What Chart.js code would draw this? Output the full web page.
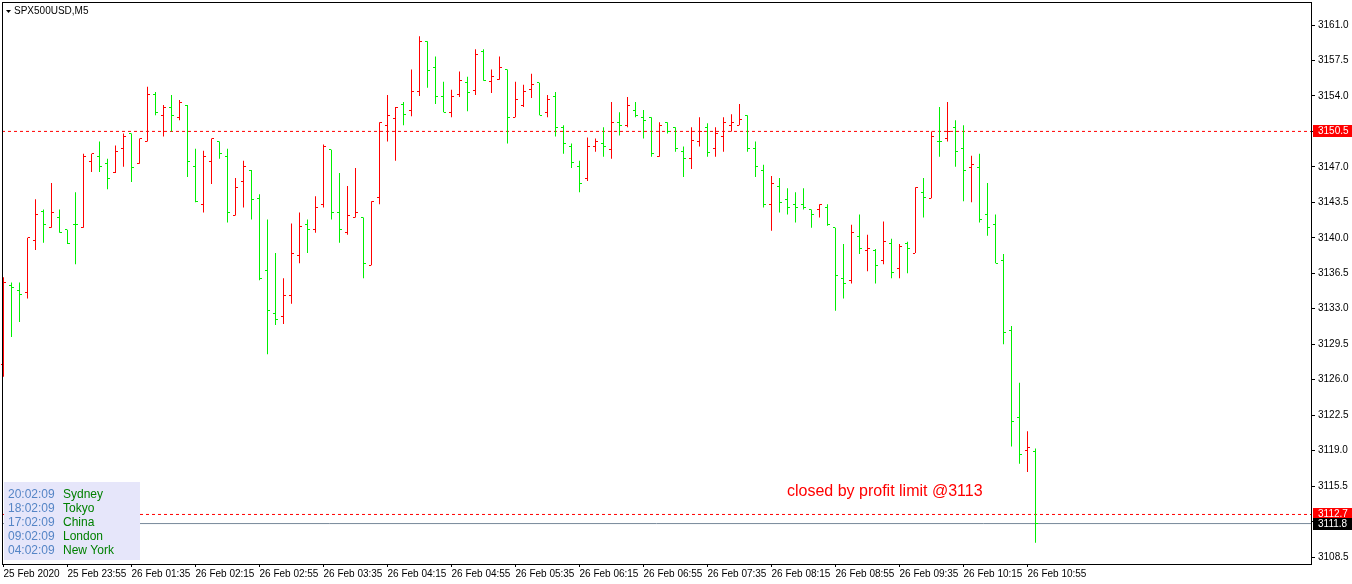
<!DOCTYPE html>
<html>
<head>
<meta charset="utf-8">
<script src="https://cdn.jsdelivr.net/npm/chart.js@4.4.1/dist/chart.umd.min.js"></script>
<style>
  html, body { margin: 0; padding: 0; background: #fff; }
  #wrap { width: 1352px; height: 584px; position: relative; }
</style>
</head>
<body>
<div id="wrap"><canvas id="ohlc-chart"></canvas></div>
<script>
// SPX500USD M5 bars
const opens = [
  3127.5, 3135.3, 3134.8, 3134.6, 3139.7, 3142.6, 3141.0, 3142.0, 3140.8, 3141.3,
  3141.0, 3147.5, 3148.0, 3147.3, 3146.4, 3148.8, 3150.3, 3147.3, 3149.5, 3154.1,
  3152.1, 3152.9, 3151.9, 3153.1, 3147.0, 3143.3, 3147.5, 3149.5, 3148.0, 3142.2,
  3145.6, 3146.6, 3143.9, 3136.8, 3132.5, 3132.2, 3134.3, 3138.3, 3141.3, 3140.8,
  3143.3, 3148.7, 3142.5, 3140.5, 3142.0, 3142.0, 3137.3, 3144.0, 3151.1, 3151.8,
  3153.2, 3152.6, 3154.4, 3159.4, 3156.8, 3153.9, 3152.4, 3154.1, 3155.3, 3154.5,
  3158.4, 3155.4, 3155.6, 3156.6, 3151.9, 3153.1, 3154.6, 3155.3, 3152.4, 3153.9,
  3150.9, 3149.0, 3147.0, 3145.9, 3149.0, 3149.3, 3148.7, 3151.4, 3151.1, 3152.6,
  3151.9, 3151.9, 3148.0, 3151.4, 3150.9, 3148.5, 3147.8, 3149.5, 3150.9, 3148.8,
  3150.0, 3151.1, 3151.1, 3152.1, 3148.8, 3146.6, 3143.3, 3145.1, 3143.8, 3143.3,
  3143.3, 3142.8, 3142.8, 3143.0, 3141.0, 3136.0, 3135.8, 3140.1, 3138.7, 3138.7,
  3137.8, 3139.4, 3137.0, 3139.4, 3138.5, 3144.5, 3143.9, 3149.5, 3149.8, 3150.9,
  3148.8, 3146.9, 3146.9, 3142.3, 3141.3, 3137.8, 3130.9, 3122.3, 3119.0, 3118.9
];
const highs = [
  3136.1, 3135.6, 3135.6, 3140.0, 3143.8, 3142.8, 3145.4, 3142.8, 3140.8, 3144.5,
  3148.3, 3148.3, 3149.5, 3147.8, 3149.1, 3150.3, 3150.3, 3149.8, 3154.9, 3154.4,
  3153.1, 3154.1, 3153.6, 3153.1, 3148.8, 3148.6, 3149.8, 3149.5, 3148.8, 3145.9,
  3147.6, 3146.7, 3144.3, 3141.8, 3138.5, 3136.0, 3141.4, 3142.5, 3141.8, 3144.1,
  3149.2, 3148.7, 3146.4, 3145.1, 3146.9, 3142.0, 3143.6, 3151.4, 3154.1, 3152.9,
  3153.4, 3156.6, 3159.9, 3159.4, 3157.9, 3155.4, 3154.6, 3156.4, 3155.9, 3158.6,
  3158.6, 3156.6, 3157.9, 3156.6, 3155.4, 3155.1, 3156.2, 3155.3, 3154.1, 3154.4,
  3151.1, 3149.3, 3147.6, 3149.9, 3149.8, 3150.9, 3153.4, 3152.4, 3153.9, 3153.4,
  3152.6, 3151.9, 3151.4, 3151.4, 3150.9, 3149.0, 3150.9, 3151.9, 3151.3, 3150.9,
  3151.9, 3152.2, 3153.2, 3152.1, 3149.5, 3147.2, 3146.1, 3145.9, 3144.9, 3144.5,
  3144.9, 3142.8, 3143.3, 3143.3, 3141.0, 3139.4, 3141.3, 3142.3, 3140.3, 3138.9,
  3141.6, 3139.9, 3139.4, 3139.6, 3145.0, 3145.9, 3150.5, 3152.9, 3153.4, 3151.6,
  3151.1, 3148.1, 3148.3, 3145.4, 3142.3, 3138.4, 3131.3, 3125.7, 3120.9, 3119.2
];
const lows = [
  3126.3, 3130.2, 3131.7, 3134.0, 3138.8, 3139.5, 3141.0, 3140.5, 3139.4, 3137.4,
  3141.0, 3146.5, 3146.5, 3144.8, 3146.4, 3147.0, 3145.5, 3147.3, 3149.5, 3152.1,
  3150.0, 3150.5, 3151.6, 3146.0, 3143.5, 3142.5, 3145.3, 3147.8, 3141.5, 3142.2,
  3143.0, 3141.8, 3135.8, 3128.5, 3131.4, 3131.5, 3133.5, 3137.5, 3138.5, 3140.5,
  3143.0, 3141.8, 3139.5, 3140.3, 3142.0, 3136.0, 3137.3, 3143.3, 3149.5, 3147.6,
  3151.1, 3152.0, 3154.0, 3154.8, 3153.2, 3152.4, 3151.9, 3153.9, 3152.5, 3154.1,
  3155.5, 3154.3, 3155.6, 3149.3, 3151.9, 3152.9, 3153.8, 3152.1, 3151.9, 3150.0,
  3148.3, 3146.9, 3144.5, 3145.6, 3148.5, 3148.0, 3147.8, 3150.1, 3150.9, 3151.9,
  3149.8, 3148.0, 3148.0, 3150.3, 3148.5, 3146.0, 3146.8, 3149.0, 3148.0, 3148.0,
  3148.5, 3150.5, 3151.1, 3148.5, 3146.0, 3143.0, 3140.7, 3142.5, 3142.3, 3141.5,
  3142.8, 3141.0, 3142.0, 3141.2, 3132.8, 3134.0, 3135.5, 3138.4, 3136.7, 3135.5,
  3137.4, 3136.0, 3136.0, 3136.5, 3138.5, 3142.0, 3143.9, 3148.0, 3149.5, 3147.0,
  3143.6, 3143.5, 3141.5, 3140.2, 3137.5, 3129.5, 3119.4, 3117.7, 3116.9, 3109.9
];
const closes = [
  3135.6, 3135.1, 3134.4, 3140.0, 3142.3, 3141.3, 3142.5, 3140.5, 3139.4, 3141.3,
  3148.0, 3148.3, 3147.0, 3145.9, 3148.5, 3150.0, 3146.9, 3149.8, 3154.1, 3152.4,
  3152.9, 3152.1, 3153.4, 3147.5, 3143.6, 3148.0, 3149.8, 3148.3, 3142.5, 3145.0,
  3147.0, 3143.8, 3136.0, 3132.8, 3131.9, 3134.3, 3138.5, 3141.1, 3140.8, 3143.0,
  3149.0, 3142.5, 3140.8, 3142.2, 3142.5, 3137.5, 3143.6, 3151.4, 3152.1, 3152.9,
  3152.2, 3154.4, 3159.4, 3156.5, 3153.9, 3152.4, 3153.9, 3155.5, 3154.3, 3158.1,
  3155.5, 3155.9, 3156.8, 3151.9, 3153.6, 3154.4, 3155.1, 3152.1, 3153.6, 3150.9,
  3149.3, 3147.4, 3145.4, 3149.0, 3149.5, 3149.0, 3151.4, 3151.1, 3153.1, 3152.1,
  3151.6, 3148.3, 3151.1, 3150.5, 3148.8, 3147.8, 3149.6, 3150.5, 3148.4, 3150.3,
  3151.4, 3151.4, 3151.7, 3148.8, 3147.0, 3143.3, 3145.4, 3143.5, 3143.0, 3143.0,
  3143.0, 3142.3, 3143.3, 3141.3, 3136.3, 3135.5, 3140.5, 3138.9, 3138.9, 3137.3,
  3139.6, 3136.6, 3139.1, 3138.9, 3145.0, 3144.0, 3150.0, 3149.5, 3150.5, 3148.5,
  3146.6, 3147.2, 3141.8, 3141.0, 3137.5, 3130.7, 3121.9, 3118.6, 3119.3, 3111.8
];

const tickBars = [0, 8, 16, 24, 32, 40, 48, 56, 64, 72, 80, 88, 96, 104, 112, 120, 128];
const tickLabels = [
  '25 Feb 2020', '25 Feb 23:55', '26 Feb 01:35', '26 Feb 02:15', '26 Feb 02:55',
  '26 Feb 03:35', '26 Feb 04:15', '26 Feb 04:55', '26 Feb 05:35', '26 Feb 06:15',
  '26 Feb 06:55', '26 Feb 07:35', '26 Feb 08:15', '26 Feb 08:55', '26 Feb 09:35',
  '26 Feb 10:15', '26 Feb 10:55'
];
const priceTicks = [3108.5, 3112.0, 3115.5, 3119.0, 3122.5, 3126.0, 3129.5, 3133.0,
  3136.5, 3140.0, 3143.5, 3147.0, 3150.5, 3154.0, 3157.5, 3161.0];

const orderLevel = 3150.5;
const profitLevel = 3112.7;
const bidLevel = 3111.8;

const sessionTimes = ['20:02:09', '18:02:09', '17:02:09', '09:02:09', '04:02:09'];
const sessionNames = ['Sydney', 'Tokyo', 'China', 'London', 'New York'];

const UP = '#ff0000';
const DOWN = '#00ee00';
const X_MIN = -0.1875, X_MAX = 163.4375;
const FONT = '"Liberation Sans", Arial, sans-serif';

document.addEventListener('DOMContentLoaded', function () {
    const colorOf = i => closes[i] > opens[i] ? UP : DOWN;

    const levelLine = (value, color, dash) => ({
        type: 'line',
        data: [{ x: X_MIN, y: value }, { x: X_MAX, y: value }],
        borderColor: color,
        borderWidth: 1,
        borderDash: dash,
        pointRadius: 0,
        order: 10
    });

    // no label overflow padding, the frame sits at fixed pixels
    const noPad = s => { s.paddingTop = 0; s.paddingBottom = 0; s.paddingLeft = 0; s.paddingRight = 0; };

    // open / close ticks, overlays and frame
    const overlay = {
        id: 'overlay',
        afterDatasetsDraw(chart) {
            const { ctx, chartArea: a, scales: { x, y } } = chart;
            ctx.save();
            for (let i = 0; i < opens.length; i++) {
                const px = Math.floor(x.getPixelForValue(i));
                ctx.fillStyle = colorOf(i);
                ctx.fillRect(px - 2, Math.floor(y.getPixelForValue(opens[i])), 2, 1);
                ctx.fillRect(px + 1, Math.floor(y.getPixelForValue(closes[i])), 2, 1);
            }

            // session clock box
            ctx.fillStyle = '#e6e6fa';
            ctx.fillRect(4, 482, 136, 78);
            ctx.font = '12px ' + FONT;
            ctx.textBaseline = 'middle';
            sessionTimes.forEach((t, k) => {
                ctx.fillStyle = '#5585c6';
                ctx.fillText(t, 8, 495 + k * 14);
                ctx.fillStyle = '#008000';
                ctx.fillText(sessionNames[k], 63, 495 + k * 14);
            });

            ctx.fillStyle = '#ff0000';
            ctx.font = '16px ' + FONT;
            ctx.fillText('closed by profit limit @3113', 787, 492);

            // frame
            ctx.strokeStyle = '#000';
            ctx.lineWidth = 1;
            ctx.strokeRect(a.left + 0.5, a.top + 0.5, a.right - a.left, a.bottom - a.top);

            // price tags on the right axis
            ctx.font = '10px ' + FONT;
            const tag = (value, bg) => {
                const py = Math.round(y.getPixelForValue(value));
                ctx.fillStyle = bg;
                ctx.fillRect(a.right + 2, py - 6, 1352 - a.right - 2, 12);
                ctx.fillStyle = '#fff';
                ctx.fillText(value.toFixed(1), a.right + 7, py + 0.5);
            };
            tag(orderLevel, '#ff0000');
            tag(profitLevel, '#ff0000');
            tag(bidLevel, '#000');

            // symbol title
            ctx.fillStyle = '#000';
            ctx.beginPath();
            ctx.moveTo(6, 10); ctx.lineTo(11, 10); ctx.lineTo(8.5, 13); ctx.closePath();
            ctx.fill();
            ctx.fillText('SPX500USD,M5', 14, 11.5);
            ctx.restore();
        }
    };

    const ctx = document.getElementById('ohlc-chart').getContext('2d');
    new Chart(ctx, {
        type: 'bar',
        data: {
            datasets: [
                {
                    label: 'SPX500USD',
                    data: opens.map((_, i) => ({ x: i, y: [lows[i], highs[i]] })),
                    backgroundColor: opens.map((_, i) => colorOf(i)),
                    barThickness: 1,
                    borderWidth: 0,
                    inflateAmount: 0,
                    grouped: false,
                    order: 1
                },
                levelLine(orderLevel, '#ff0000', [3, 3]),
                levelLine(profitLevel, '#ff0000', [3, 3]),
                levelLine(bidLevel, '#778899', [])
            ]
        },
        options: {
            responsive: true,
            maintainAspectRatio: false,
            animation: false,
            events: [],
            layout: { padding: { left: 2, top: 2, right: 0, bottom: 0 } },
            plugins: {
                legend: { display: false },
                tooltip: { enabled: false }
            },
            scales: {
                x: {
                    type: 'linear',
                    min: X_MIN,
                    max: X_MAX,
                    offset: false,
                    afterFit: s => { s.height = 20; noPad(s); },
                    afterBuildTicks: s => { s.ticks = tickBars.map(v => ({ value: v })); },
                    grid: { drawOnChartArea: false, offset: false, tickLength: 3, color: '#000' },
                    border: { display: false },
                    ticks: {
                        autoSkip: false,
                        maxRotation: 0,
                        align: 'start',
                        padding: 1,
                        color: '#000',
                        font: { family: FONT, size: 10 },
                        callback: v => tickLabels[tickBars.indexOf(v)]
                    }
                },
                y: {
                    position: 'right',
                    min: 3107.81,
                    max: 3163.27,
                    afterFit: s => { s.width = 41; noPad(s); },
                    afterBuildTicks: s => { s.ticks = priceTicks.map(v => ({ value: v })); },
                    grid: { drawOnChartArea: false, tickLength: 4, color: '#000' },
                    border: { display: false },
                    ticks: {
                        padding: 3,
                        color: '#000',
                        font: { family: FONT, size: 10 },
                        callback: v => v.toFixed(1)
                    }
                }
            }
        },
        plugins: [overlay]
    });
});
</script>
</body>
</html>
